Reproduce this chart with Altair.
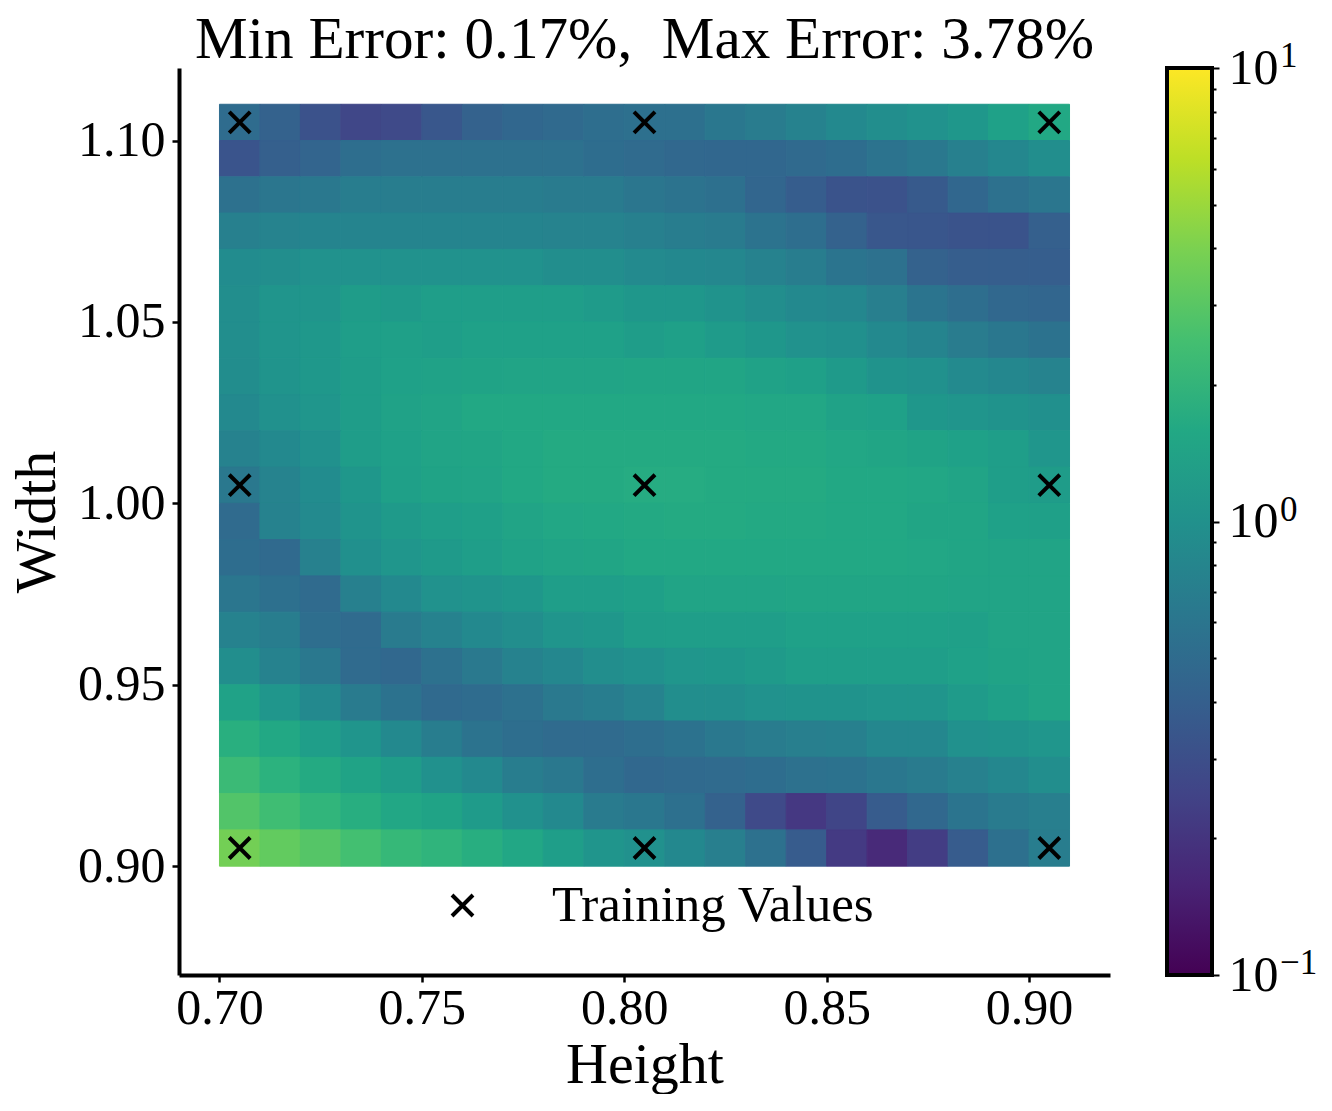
import altair as alt
import pandas as pd

FONT = "Liberation Serif"
TITLE = "Min Error: 0.17%,\u00a0 Max Error: 3.78%"
X_LOW = [0.70, 0.71, 0.72, 0.73, 0.74, 0.75, 0.76, 0.77, 0.78, 0.79, 0.80, 0.81, 0.82, 0.83, 0.84, 0.85, 0.86, 0.87, 0.88, 0.89, 0.90]
Y_LOW = [1.10, 1.09, 1.08, 1.07, 1.06, 1.05, 1.04, 1.03, 1.02, 1.01, 1.00, 0.99, 0.98, 0.97, 0.96, 0.95, 0.94, 0.93, 0.92, 0.91, 0.90]
ERR = [
 [.501,.417,.316,.263,.275,.347,.417,.457,.479,.525,.537,.537,.617,.676,.759,.871,.955,1.02,1.15,1.38,1.58],
 [.331,.398,.437,.525,.550,.550,.550,.550,.550,.513,.490,.468,.457,.457,.479,.513,.575,.631,.724,.832,.955],
 [.550,.603,.631,.692,.692,.692,.692,.692,.661,.661,.603,.575,.537,.447,.380,.324,.316,.363,.457,.550,.603],
 [.724,.776,.794,.794,.794,.794,.794,.794,.776,.776,.724,.692,.661,.575,.525,.417,.347,.339,.324,.324,.398],
 [.912,.955,1.02,1.02,1.02,1.02,1.02,1.02,.955,.955,.891,.851,.832,.759,.692,.589,.550,.417,.389,.389,.389],
 [.955,1.10,1.10,1.26,1.20,1.32,1.32,1.32,1.32,1.23,1.15,1.15,1.05,.955,.871,.832,.708,.589,.525,.468,.447],
 [.955,1.10,1.17,1.32,1.35,1.32,1.38,1.38,1.38,1.38,1.29,1.35,1.23,1.15,1.02,.977,.871,.794,.676,.617,.562],
 [.933,1.07,1.17,1.29,1.38,1.41,1.45,1.48,1.48,1.48,1.51,1.51,1.51,1.41,1.35,1.20,1.05,1.00,.891,.832,.776],
 [.871,1.00,1.12,1.29,1.41,1.48,1.58,1.58,1.58,1.58,1.58,1.58,1.58,1.55,1.55,1.41,1.38,1.15,1.10,1.05,.977],
 [.759,.871,1.00,1.29,1.38,1.48,1.51,1.58,1.66,1.66,1.66,1.66,1.66,1.62,1.62,1.55,1.51,1.45,1.38,1.32,1.12],
 [.631,.776,.912,1.15,1.35,1.45,1.48,1.58,1.66,1.66,1.70,1.70,1.66,1.66,1.66,1.58,1.58,1.55,1.48,1.32,1.26],
 [.490,.759,.891,1.07,1.20,1.32,1.35,1.48,1.55,1.58,1.62,1.66,1.66,1.62,1.62,1.58,1.58,1.51,1.51,1.38,1.35],
 [.513,.479,.741,.977,1.12,1.20,1.32,1.41,1.48,1.51,1.58,1.58,1.58,1.58,1.58,1.58,1.58,1.55,1.51,1.48,1.48],
 [.603,.537,.490,.724,.871,1.02,1.07,1.15,1.32,1.32,1.35,1.48,1.48,1.48,1.51,1.51,1.51,1.51,1.48,1.48,1.48],
 [.759,.692,.525,.490,.661,.759,.871,.955,1.10,1.15,1.29,1.32,1.32,1.32,1.38,1.38,1.38,1.38,1.35,1.48,1.48],
 [.955,.759,.631,.490,.468,.550,.646,.759,.832,.955,1.00,1.12,1.15,1.20,1.32,1.32,1.32,1.32,1.38,1.45,1.48],
 [1.41,1.12,.871,.661,.562,.479,.501,.550,.646,.692,.776,.955,.955,1.02,1.05,1.05,1.10,1.10,1.23,1.35,1.48],
 [1.82,1.58,1.32,1.10,.871,.692,.575,.525,.490,.490,.525,.562,.631,.676,.708,.724,.832,.832,1.00,1.05,1.12],
 [2.29,1.91,1.66,1.45,1.26,1.00,.871,.692,.631,.525,.468,.479,.490,.513,.550,.562,.617,.661,.741,.832,.955],
 [2.88,2.40,2.04,1.78,1.55,1.45,1.23,1.00,.871,.661,.617,.537,.417,.275,.209,.257,.372,.468,.589,.661,.708],
 [3.78,3.31,2.95,2.51,2.19,2.00,1.78,1.55,1.32,1.10,1.00,.851,.708,.550,.372,.214,.170,.224,.372,.537,.692],
]
TRAIN_X = [0.705, 0.805, 0.905]
TRAIN_Y = [0.905, 1.005, 1.105]
X_TICKS = [0.70, 0.75, 0.80, 0.85, 0.90]
Y_TICKS = [0.90, 0.95, 1.00, 1.05, 1.10]
CB_TICKS = [0.1, 0.2, 0.3, 0.4, 0.5, 0.6, 0.7, 0.8, 0.9, 1, 2, 3, 4, 5, 6, 7, 8, 9, 10]
CB_LABELS = [10, 1, 0.1]
CB_EXP = ["1", "0", "\u22121"]
VIRIDIS = ["#440154", "#482475", "#414487", "#355f8d", "#2a788e", "#21918c", "#22a884", "#44bf70", "#7ad151", "#bddf26", "#fde725"]

cells = pd.DataFrame([
    {"x": X_LOW[j], "x2": round(X_LOW[j] + 0.01, 2), "y": Y_LOW[i], "y2": round(Y_LOW[i] + 0.01, 2), "err": ERR[i][j]}
    for i in range(len(Y_LOW)) for j in range(len(X_LOW))
])
train = pd.DataFrame([{"x": a, "y": b, "k": "Training Values"} for a in TRAIN_X for b in TRAIN_Y])

xs = alt.Scale(domain=[0.69, 0.92], nice=False, zero=False)
ys = alt.Scale(domain=[0.87, 1.12], nice=False, zero=False)
common = dict(domainColor="black", domainWidth=4, tickColor="black", tickWidth=2.5, tickSize=7,
              labelFont=FONT, labelFontSize=50, labelColor="black", titleFont=FONT, titleFontSize=58,
              titleFontWeight="normal", titleColor="black", grid=False, format=".2f", labelOverlap=False,
              labelFlush=False)

heat = alt.Chart(cells).mark_rect(strokeWidth=1).encode(
    x=alt.X("x:Q", scale=xs, title="Height", axis=alt.Axis(values=X_TICKS, labelPadding=1, titlePadding=3, **common)),
    x2="x2:Q",
    y=alt.Y("y:Q", scale=ys, title="Width", axis=alt.Axis(values=Y_TICKS, labelPadding=7, titlePadding=11, **common)),
    y2="y2:Q",
    color=alt.Color("err:Q", scale=alt.Scale(type="log", domain=[0.1, 10], scheme="viridis"), legend=None),
    stroke=alt.Stroke("err:Q", scale=alt.Scale(type="log", domain=[0.1, 10], scheme="viridis"), legend=None),
)

XPATH = "M-1,-1L1,1M-1,1L1,-1"
pts = alt.Chart(train).mark_point(filled=False, stroke="black", strokeWidth=4, size=440, opacity=1).encode(
    x=alt.X("x:Q", scale=xs),
    y=alt.Y("y:Q", scale=ys),
    shape=alt.Shape("k:N", scale=alt.Scale(domain=["Training Values"], range=[XPATH]),
                    legend=alt.Legend(orient="none", legendX=258, legendY=812, title=None, labelFont=FONT,
                                      labelFontSize=51, labelColor="black", symbolSize=440, symbolStrokeWidth=4,
                                      symbolStrokeColor="black", symbolType=XPATH, labelOffset=64, padding=0,
                                      labelLimit=500)),
)

main = alt.layer(heat, pts).properties(
    width=931, height=907,
    title=alt.TitleParams(TITLE, font=FONT, fontSize=59.2, fontWeight="normal", color="black", anchor="middle", offset=-2.5),
).resolve_scale(color="independent", stroke="independent")

bar_df = pd.DataFrame({"lo": [0.1], "hi": [10]})
cby = alt.Scale(type="log", domain=[0.1, 10], nice=False)
grad = alt.Gradient(gradient="linear", x1=0, x2=0, y1=1, y2=0,
                    stops=[alt.GradientStop(offset=i / 10, color=c) for i, c in enumerate(VIRIDIS)])
bar = alt.Chart(bar_df).mark_rect(fill=grad, stroke="black", strokeWidth=4).encode(
    x=alt.value(0), x2=alt.value(45),
    y=alt.Y("lo:Q", scale=cby, title=None, axis=alt.Axis(
        orient="right", values=CB_TICKS, domain=False, tickColor="black", tickWidth=2,
        tickSize={"condition": {"test": "datum.value==0.1||datum.value==1||datum.value==10", "value": 7}, "value": 4},
        labelFont=FONT, labelFontSize=50, labelColor="black", labelPadding=9, grid=False, labelOverlap=False,
        labelFlush=False, labelExpr="(datum.value==0.1||datum.value==1||datum.value==10)?'10':''")),
    y2="hi:Q",
)
exp_df = pd.DataFrame({"v": CB_LABELS, "t": CB_EXP})
sup = alt.Chart(exp_df).mark_text(font=FONT, fontSize=35, color="black", align="left", baseline="alphabetic", dy=-1).encode(
    x=alt.value(113), y=alt.Y("v:Q", scale=cby), text="t:N")
cbar = alt.layer(bar, sup).properties(width=45, height=907)

chart = alt.hconcat(main, cbar, spacing=55).properties(
    padding={"left": 0, "top": 3, "right": 0, "bottom": 0}, background="white"
).configure_view(stroke=None)
chart.save("out.html", embed_options={"renderer": "svg", "actions": False})
